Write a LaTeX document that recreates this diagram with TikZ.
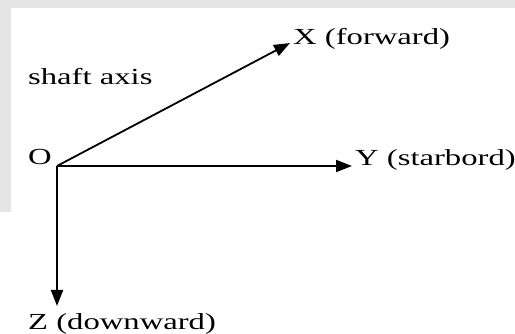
\documentclass[tikz,border=0pt]{standalone}
\usepackage{fontspec}
\usepackage{graphicx}
\setmainfont{Liberation Serif}
\usetikzlibrary{arrows.meta}
\tikzset{
  lbl/.style={inner sep=0pt, anchor=base west, font=\fontsize{23}{27}\selectfont},
  axisarrow/.style={line width=1.8pt, -{Triangle[length=16pt,width=12pt]}},
  wmark/.style={fill=black!10, draw=none}
}
\newcommand{\hs}[1]{\scalebox{1.42}[1]{#1}}
\begin{document}
\begin{tikzpicture}[x=1pt,y=-1pt]
\useasboundingbox (0,0) rectangle (515,334);
\fill[white] (0,0) rectangle (515,334);
% faint watermark
\fill[wmark] (0,0) rectangle (515,8);
\fill[wmark] (0,0) rectangle (11,212);
% origin and tips
\coordinate (o) at (57,166);
\coordinate (xt) at (290,43);
\coordinate (yt) at (352,166);
\coordinate (zt) at (57,306);
% labels
\node[lbl] (shaft) at (28,85) {\hs{shaft axis}};
\node[lbl] (olbl) at (28,165) {\hs{O}};
\node[lbl] (xlbl) at (293,45) {\hs{X (forward)}};
\node[lbl] (ylbl) at (355,166) {\hs{Y (starbord)}};
\node[lbl] (zlbl) at (28,330) {\hs{Z (downward)}};
% axes
\draw[axisarrow] (o) -- (xt);
\draw[axisarrow] (o) -- (yt);
\draw[axisarrow] (o) -- (zt);
\end{tikzpicture}
\end{document}
